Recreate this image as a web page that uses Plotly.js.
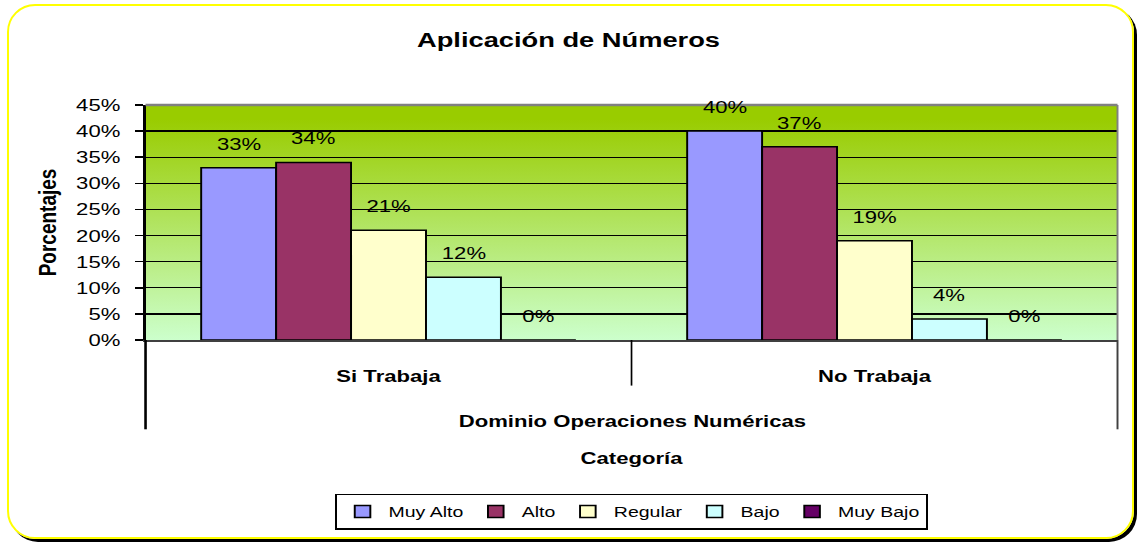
<!DOCTYPE html>
<html>
<head>
<meta charset="utf-8">
<script src="https://cdn.plot.ly/plotly-3.0.1.min.js"></script>
<style>
  html, body { margin: 0; padding: 0; background: #ffffff; overflow: hidden; }
  #wrap { position: absolute; left: 0; top: 0; width: 875px; height: 542px;
          transform: scaleX(1.29943); transform-origin: 0 0; }
  #frame { position: absolute; left: 7px; top: 4px; width: 1127px; height: 535px;
           box-sizing: border-box; border: 2.5px solid #ffff00; border-radius: 28px;
           box-shadow: 3px 3px 0 0 #000000; pointer-events: none; }
</style>
</head>
<body>
<div id="wrap"><div id="chart"></div></div>
<div id="frame"></div>
<script>
// ---- data ----
const categories = ['Si Trabaja', 'No Trabaja'];
const seriesNames = ['Muy Alto', 'Alto', 'Regular', 'Bajo', 'Muy Bajo'];
const muyAlto = [33, 40];
const alto = [34, 37];
const regular = [21, 19];
const bajo = [12, 4];
const muyBajo = [0, 0];
const yTickVals = [0, 5, 10, 15, 20, 25, 30, 35, 40, 45];
const yTickText = ['0%', '5%', '10%', '15%', '20%', '25%', '30%', '35%', '40%', '45%'];
const groupLabel = 'Dominio Operaciones Numéricas';

// ---- styles ----
const seriesValues = [muyAlto, alto, regular, bajo, muyBajo];
const colors = ['#9999FF', '#993366', '#FFFFCC', '#CCFFFF', '#660066'];
const W = 875, H = 542;
const margin = {l: 112, r: 15, t: 105, b: 200};
const bargap = 0.229;
const FONT = 'Liberation Sans, Arial, sans-serif';

const traces = seriesNames.map((name, i) => ({
  type: 'bar',
  name: name,
  x: categories,
  y: seriesValues[i],
  marker: {color: colors[i], line: {color: '#000000', width: 1.5}},
  hoverinfo: 'skip'
}));

const plotW = W - margin.l - margin.r;
const barPx = plotW / categories.length * (1 - bargap) / seriesNames.length;
const annotations = [];
seriesNames.forEach((name, i) => {
  categories.forEach((c, j) => {
    annotations.push({
      x: c, y: seriesValues[i][j], xref: 'x', yref: 'y',
      text: seriesValues[i][j] + '%',
      showarrow: false, yanchor: 'bottom', xanchor: 'center',
      xshift: (i - (seriesNames.length - 1) / 2) * barPx,
      yshift: 12,
      font: {family: FONT, size: 17, color: '#000000'}
    });
  });
});
annotations.push({
  x: 0.5, y: -0.345, xref: 'paper', yref: 'paper', text: groupLabel,
  showarrow: false, xanchor: 'center', yanchor: 'middle',
  font: {family: FONT, size: 17, color: '#000000', weight: 'bold'}
});

const grad = "<svg xmlns='http://www.w3.org/2000/svg' width='100' height='100' preserveAspectRatio='none'>" +
  "<defs><linearGradient id='g' x1='0' y1='0' x2='0' y2='1'>" +
  "<stop offset='0' stop-color='#99cc00'/><stop offset='0.06' stop-color='#99cc00'/><stop offset='1' stop-color='#ccffcc'/>" +
  "</linearGradient></defs><rect width='100' height='100' fill='url(#g)'/></svg>";

const layout = {
  width: W, height: H, margin: margin,
  paper_bgcolor: '#ffffff', plot_bgcolor: 'rgba(0,0,0,0)',
  barmode: 'group', bargap: bargap, bargroupgap: 0,
  font: {family: FONT, color: '#000000'},
  title: {text: 'Aplicación de Números', x: 0.5, xanchor: 'center', y: 1 - 40 / H, yanchor: 'middle',
          font: {family: FONT, size: 21, weight: 'bold', color: '#000000'}},
  xaxis: {
    type: 'category', showgrid: false, zeroline: false,
    showline: true, linecolor: '#404040', linewidth: 2,
    ticks: '', ticklabelstandoff: 20,
    tickfont: {family: FONT, size: 17, weight: 'bold', color: '#000000'},
    title: {text: 'Categoría', standoff: 67, font: {family: FONT, size: 17, weight: 'bold', color: '#000000'}}
  },
  yaxis: {
    range: [0, 45], tickmode: 'array', tickvals: yTickVals, ticktext: yTickText,
    showgrid: true, gridcolor: '#000000', gridwidth: 1.3, zeroline: false,
    showline: true, linecolor: '#000000', linewidth: 2,
    ticks: 'outside', ticklen: 6, tickwidth: 1.5, tickcolor: '#000000',
    ticklabelstandoff: 8,
    tickfont: {family: FONT, size: 17, color: '#000000'},
    title: {text: 'Porcentajes', standoff: 10, font: {family: FONT, size: 19, weight: 'bold', color: '#000000'}}
  },
  legend: {
    orientation: 'h', x: 0.5, xanchor: 'center', y: -0.654, yanchor: 'top',
    bgcolor: '#ffffff', bordercolor: '#000000', borderwidth: 1.5,
    font: {family: FONT, size: 15, color: '#000000'}
  },
  images: [{
    source: 'data:image/svg+xml;charset=utf-8,' + encodeURIComponent(grad),
    xref: 'paper', yref: 'paper', x: 0, y: 1, sizex: 1, sizey: 1,
    xanchor: 'left', yanchor: 'top', sizing: 'stretch', layer: 'below'
  }],
  shapes: [
    {type: 'line', xref: 'paper', yref: 'paper', x0: 0, x1: 1, y0: 1, y1: 1, line: {color: '#808080', width: 2.5}},
    {type: 'line', xref: 'paper', yref: 'paper', x0: 1, x1: 1, y0: 0, y1: 1, line: {color: '#808080', width: 1.5}},
    {type: 'line', xref: 'paper', yref: 'paper', x0: 0, x1: 0, y0: 0, y1: -0.38, line: {color: '#000000', width: 2}},
    {type: 'line', xref: 'paper', yref: 'paper', x0: 0.5, x1: 0.5, y0: 0, y1: -0.194, line: {color: '#000000', width: 1.3}},
    {type: 'line', xref: 'paper', yref: 'paper', x0: 1, x1: 1, y0: 0, y1: -0.38, line: {color: '#404040', width: 1.5}}
  ],
  annotations: annotations,
  showlegend: true,
  hovermode: false
};

Plotly.newPlot('chart', traces, layout, {displayModeBar: false, responsive: false, staticPlot: true});
</script>
</body>
</html>
